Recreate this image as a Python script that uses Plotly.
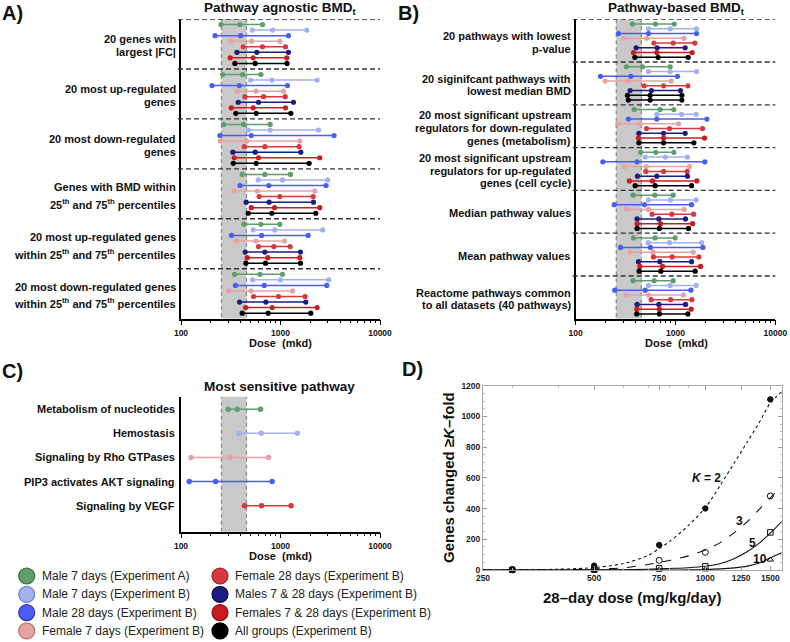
import math
import plotly.graph_objects as go

W, H = 790, 642
FONT = "Liberation Sans, Arial, sans-serif"

# ---------------- data ----------------
SERIES_NAMES = [
    "Male 7 days (Experiment A)", "Male 7 days (Experiment B)",
    "Male 28 days (Experiment B)", "Female 7 days (Experiment B)",
    "Female 28 days (Experiment B)", "Males 7 & 28 days (Experiment B)",
    "Females 7 & 28 days (Experiment B)", "All groups (Experiment B)",
]
SERIES_COLORS = ["#5e9e6e", "#a3b1ef", "#4b5ef2", "#e9a2a2",
                 "#d8383f", "#1b1d80", "#cc1a22", "#000000"]
LEGEND_EDGE = ["#3c6a48", "#7482c0", "#2c3aa8", "#b47676",
               "#9c2026", "#0b0c4c", "#8a0f14", "#000000"]

BMD_BAND = [255, 455]

A_LABELS = [
    ["20 genes with", "largest |FC|"],
    ["20 most up-regulated", "genes"],
    ["20 most down-regulated", "genes"],
    ["Genes with BMD within", "25<sup>th</sup> and 75<sup>th</sup> percentiles"],
    ["20 most up-regulated genes", "within 25<sup>th</sup> and 75<sup>th</sup> percentiles"],
    ["20 most down-regulated genes", "within 25<sup>th</sup> and 75<sup>th</sup> percentiles"],
]
A_LOW = [
    [252, 520, 220, 317, 422, 365, 312, 348],
    [262, 500, 205, 370, 439, 376, 320, 356],
    [268, 474, 246, 248, 432, 332, 343, 335],
    [412, 597, 391, 340, 611, 452, 508, 474],
    [429, 532, 322, 359, 601, 442, 463, 449],
    [345, 524, 353, 301, 536, 388, 446, 412],
]
A_MID = [
    [391, 832, 397, 511, 659, 578, 531, 556],
    [416, 819, 385, 566, 675, 601, 532, 570],
    [425, 787, 508, 456, 696, 557, 601, 570],
    [696, 1047, 764, 583, 984, 769, 871, 819],
    [635, 877, 645, 566, 857, 696, 746, 707],
    [621, 1000, 686, 504, 955, 713, 824, 752],
]
A_HIGH = [
    [659, 1837, 1202, 984, 1122, 1202, 1156, 1165],
    [635, 2334, 1175, 1072, 1114, 1350, 1122, 1270],
    [787, 2405, 3453, 1563, 1538, 1600, 2480, 1940],
    [1260, 2985, 2871, 2208, 2128, 2143, 2480, 2263],
    [984, 2660, 1895, 1097, 1250, 1588, 1563, 1588],
    [1047, 3055, 2917, 1318, 1767, 1795, 2334, 2014],
]

B_LABELS = [
    ["20 pathways with lowest", "p-value"],
    ["20 siginifcant pathways with", "lowest median BMD"],
    ["20 most significant upstream", "regulators for down-regulated", "genes (metabolism)"],
    ["20 most significant upstream", "regulators for up-regulated", "genes (cell cycle)"],
    ["Median pathway values"],
    ["Mean pathway values"],
    ["Reactome pathways common", "to all datasets (40 pathways)"],
]
B_LOW = [
    [370, 536, 268, 305, 607, 403, 379, 391],
    [322, 536, 177, 197, 485, 351, 330, 337],
    [385, 650, 337, 264, 512, 429, 425, 429],
    [449, 496, 187, 308, 504, 416, 345, 394],
    [376, 536, 243, 322, 583, 412, 412, 412],
    [379, 532, 281, 351, 601, 425, 439, 432],
    [376, 536, 246, 320, 570, 412, 409, 409],
]
B_MID = [
    [630, 884, 536, 515, 948, 655, 650, 670],
    [467, 884, 356, 337, 759, 574, 557, 557],
    [702, 1148, 650, 442, 871, 759, 759, 759],
    [635, 794, 412, 508, 759, 650, 588, 625],
    [621, 891, 489, 536, 919, 681, 707, 690],
    [625, 871, 561, 593, 926, 696, 741, 713],
    [611, 884, 496, 536, 891, 681, 690, 690],
]
B_HIGH = [
    [970, 1625, 1625, 1213, 1563, 1250, 1469, 1340],
    [884, 1625, 1047, 905, 1330, 1122, 1158, 1158],
    [962, 1611, 2061, 1072, 1866, 1250, 1954, 1528],
    [962, 1318, 1968, 1380, 1309, 1318, 1637, 1449],
    [948, 1611, 1449, 1222, 1517, 1260, 1483, 1350],
    [993, 1824, 1880, 1504, 1714, 1449, 1782, 1574],
    [948, 1611, 1426, 1202, 1459, 1260, 1436, 1330],
]
B_ROW_COLOR_OVERRIDE = {(1, 6): "#000000"}

C_LABELS = ["Metabolism of nucleotides", "Hemostasis", "Signaling by Rho GTPases",
            "PIP3 activates AKT signaling", "Signaling by VEGF"]
C_SERIES = [0, 1, 3, 2, 4]
C_LOW = [298, 382, 126, 121, 435]
C_MID = [367, 640, 310, 223, 645]
C_HIGH = [630, 1479, 758, 824, 1276]

D_DOSES = [300, 500, 750, 1000, 1500]
D_K2 = [3, 28, 163, 401, 1111]
D_K3 = [2, 6, 63, 115, 482]
D_K5 = [1, 2, 11, 24, 245]
D_K10 = [0, 0, 2, 3, 67]
CURVE_DOSES = [250, 300, 400, 500, 600, 700, 750, 800, 900, 1000, 1100, 1200, 1300, 1400, 1500, 1610]
CURVE_K2 = [0, 1, 5, 16, 42, 95, 140, 185, 290, 405, 555, 700, 835, 960, 1088, 1160]
CURVE_K3 = [0, 0, 2, 6, 14, 36, 50, 62, 92, 130, 180, 245, 315, 395, 470, 540]
CURVE_K5 = [0, 0, 0, 1, 2, 5, 7, 10, 15, 24, 42, 75, 120, 175, 240, 315]
CURVE_K10 = [0, 0, 0, 0, 0, 0, 0, 0, 1, 3, 7, 14, 25, 45, 80, 113]
D_XTICKS = [250, 500, 750, 1000, 1250, 1500]
D_YTICKS = [0, 200, 400, 600, 800, 1000, 1200]
DOSE_TICKS = [100, 1000, 10000]

# ---------------- figure ----------------
fig = go.Figure()


def px(x):
    return x / W


def py(y):
    return 1 - y / H


def annot(text, x, y, size, xanchor="center", yanchor="middle", xref="paper", yref="paper",
          textangle=0, color="#111", bold=True):
    fig.add_annotation(text=("<b>%s</b>" % text) if bold else text, x=x, y=y, xref=xref, yref=yref,
                       xanchor=xanchor, yanchor=yanchor, showarrow=False, textangle=textangle,
                       font=dict(family=FONT, size=size, color=color))


def add_band(xa, ya, y0, y1):
    fig.add_trace(go.Scatter(x=[BMD_BAND[0], BMD_BAND[1], BMD_BAND[1], BMD_BAND[0], BMD_BAND[0]],
                             y=[y0, y0, y1, y1, y0], fill="toself", fillcolor="#c9c9c9",
                             line=dict(width=0), mode="lines", xaxis=xa, yaxis=ya,
                             showlegend=False, hoverinfo="skip"))
    for b in BMD_BAND:
        fig.add_trace(go.Scatter(x=[b, b], y=[y0, y1], mode="lines",
                                 line=dict(color="#8c8c8c", width=1.3, dash="4px,3px"),
                                 xaxis=xa, yaxis=ya, showlegend=False, hoverinfo="skip"))


def add_dumbbells(xa, ya, lows, mids, highs, overrides=None):
    overrides = overrides or {}
    for g in range(len(lows)):
        for s in range(8):
            y = 9 * g + 1 + s
            col = overrides.get((g, s), SERIES_COLORS[s])
            fig.add_trace(go.Scatter(x=[lows[g][s], mids[g][s], highs[g][s]], y=[y, y, y],
                                     mode="lines+markers", line=dict(color=col, width=1.5),
                                     marker=dict(color=col, size=5.2), xaxis=xa, yaxis=ya,
                                     showlegend=False, hoverinfo="skip", cliponaxis=False))


def add_separators(yref, n_groups, xref):
    for g in range(n_groups):
        fig.add_shape(type="line", xref=xref + " domain", yref=yref, x0=-0.015, x1=1,
                      y0=9 * g, y1=9 * g, line=dict(color="#333", width=1.4, dash="5px,3px"))


# Panel A
A_ROWS = 9 * len(A_LOW)
add_band("x", "y", 0, A_ROWS)
add_separators("y", len(A_LOW), "x")
add_dumbbells("x", "y", A_LOW, A_MID, A_HIGH)

# Panel B
B_ROWS = 9 * len(B_LOW)
add_band("x2", "y2", 0, B_ROWS)
add_separators("y2", len(B_LOW), "x2")
add_dumbbells("x2", "y2", B_LOW, B_MID, B_HIGH, B_ROW_COLOR_OVERRIDE)

# Panel C
add_band("x3", "y3", -0.6, 5.2)
for i in range(len(C_LABELS)):
    col = SERIES_COLORS[C_SERIES[i]]
    fig.add_trace(go.Scatter(x=[C_LOW[i], C_MID[i], C_HIGH[i]], y=[i, i, i],
                             mode="lines+markers", line=dict(color=col, width=1.5),
                             marker=dict(color=col, size=5.5), xaxis="x3", yaxis="y3",
                             showlegend=False, hoverinfo="skip", cliponaxis=False))

# Panel D
for curve, dash in [(CURVE_K2, "dot"), (CURVE_K3, "dash"), (CURVE_K5, "solid"), (CURVE_K10, "solid")]:
    fig.add_trace(go.Scatter(x=CURVE_DOSES, y=curve, mode="lines", line=dict(color="#111", width=1.1,
                             dash=dash, shape="spline", smoothing=0.8), xaxis="x4", yaxis="y4",
                             showlegend=False, hoverinfo="skip"))
for vals, sym, size in [(D_K10, "triangle-up-open", 5.5), (D_K5, "square-open", 5.5),
                        (D_K3, "circle-open", 6), (D_K2, "circle", 5.5)]:
    fig.add_trace(go.Scatter(x=D_DOSES, y=vals, mode="markers",
                             marker=dict(symbol=sym, size=size, color="#111", line=dict(width=1, color="#111")),
                             xaxis="x4", yaxis="y4", showlegend=False, hoverinfo="skip",
                             cliponaxis=False))

# Legend (drawn on a pixel-scaled overlay axis)
for i, name in enumerate(SERIES_NAMES):
    col, row = i // 4, i % 4
    cx = 26.7 + 193.3 * col
    cy = 576 + 18.3 * row
    fig.add_trace(go.Scatter(x=[cx], y=[cy], mode="markers",
                             marker=dict(size=16, color=SERIES_COLORS[i],
                                         line=dict(color=LEGEND_EDGE[i], width=1.2)),
                             xaxis="x5", yaxis="y5", showlegend=False, hoverinfo="skip"))
    fig.add_annotation(text=name, x=cx + 13.3, y=cy, xref="x5", yref="y5", xanchor="left",
                       yanchor="middle", showarrow=False,
                       font=dict(family=FONT, size=12, color="#222"))

# ---------------- axes ----------------
dose_x = dict(type="log", range=[2, 4], showline=True, linecolor="#000", linewidth=1.5,
              ticks="outside", ticklen=5, tickwidth=1, tickcolor="#000",
              tickmode="array", tickvals=DOSE_TICKS, ticktext=[str(v) for v in DOSE_TICKS],
              tickfont=dict(family=FONT, size=8.5, color="#111", weight="bold"),
              showgrid=False, zeroline=False, fixedrange=True,
              minor=dict(ticks="outside", ticklen=3, tickwidth=1, tickcolor="#000", dtick="D1",
                         showgrid=False))
cat_y = dict(showline=True, linecolor="#000", linewidth=1.5, showticklabels=False, ticks="",
             showgrid=False, zeroline=False, fixedrange=True)

fig.update_layout(
    autosize=True, margin=dict(l=0, r=0, t=0, b=0, autoexpand=False),
    paper_bgcolor="white", plot_bgcolor="rgba(0,0,0,0)", showlegend=False,
    font=dict(family=FONT),
    xaxis=dict(dose_x, domain=[px(181), px(380)], anchor="y"),
    yaxis=dict(cat_y, domain=[py(318.7), py(19)], range=[A_ROWS, 0], anchor="x"),
    xaxis2=dict(dose_x, domain=[px(575.7), px(775.3)], anchor="y2"),
    yaxis2=dict(cat_y, domain=[py(318.7), py(19.3)], range=[B_ROWS, 0], anchor="x2"),
    xaxis3=dict(dose_x, domain=[px(181), px(380)], anchor="y3"),
    yaxis3=dict(cat_y, domain=[py(531.7), py(396.7)], range=[5.08, -0.52], anchor="x3"),
    xaxis4=dict(type="log", range=[math.log10(250), math.log10(1610)], domain=[px(483), px(781.7)],
                anchor="y4", showline=True, linecolor="#a8a8a8", linewidth=1, mirror="ticks",
                ticks="inside", ticklen=4, tickcolor="#999", tickmode="array", tickvals=D_XTICKS,
                ticktext=[str(v) for v in D_XTICKS],
                tickfont=dict(family=FONT, size=8.5, color="#222", weight="bold"),
                showgrid=False, zeroline=False, fixedrange=True,
                minor=dict(ticks="inside", ticklen=2, tickcolor="#bbb", dtick="D1", showgrid=False)),
    yaxis4=dict(range=[0, 1200], domain=[py(570), py(385.7)], anchor="x4", side="left",
                showline=True, linecolor="#a8a8a8", linewidth=1, mirror="ticks", ticks="inside",
                ticklen=4, tickcolor="#999", tickmode="array", tickvals=D_YTICKS,
                ticktext=[str(v) for v in D_YTICKS], showticklabels=True,
                ticklabeloverflow="allow",
                tickfont=dict(family=FONT, size=8.5, color="#222", weight="bold"),
                showgrid=False, zeroline=False, fixedrange=True,
                minor=dict(ticks="inside", ticklen=2, tickcolor="#bbb", dtick=50, showgrid=False)),
    xaxis5=dict(domain=[0, 1], range=[0, W], visible=False, anchor="y5", fixedrange=True),
    yaxis5=dict(domain=[0, 1], range=[H, 0], visible=False, anchor="x5", fixedrange=True),
)

# ---------------- text ----------------
annot("A)", px(12), py(13), 20)
annot("B)", px(408), py(13), 20)
annot("C)", px(12), py(371), 20)
annot("D)", px(412), py(369), 20)

annot("Pathway agnostic BMD<sub>t</sub>", px(280.5), py(8), 13.5)
annot("Pathway-based BMD<sub>t</sub>", px(676), py(8), 13.5)
annot("Most sensitive pathway", px(279), py(386), 13.5)
annot("Dose  (mkd)", px(280.5), py(343), 11)
annot("Dose  (mkd)", px(676), py(343), 11)
annot("Dose  (mkd)", px(280.5), py(555.7), 11)


def group_labels(labels, yref, center_off, row_px, right_px):
    for g, lines in enumerate(labels):
        n = len(lines)
        has_sup = any("<sup>" in l for l in lines)
        spacing = (16.5 if has_sup else 12.8) / row_px
        center = 9 * g + center_off
        for k, line in enumerate(lines):
            yv = center + (k - (n - 1) / 2) * spacing
            fig.add_annotation(text="<b>%s</b>" % line, x=px(right_px), y=yv, xref="paper", yref=yref,
                               xanchor="right", yanchor="middle", showarrow=False,
                               font=dict(family=FONT, size=11, color="#111"))


group_labels(A_LABELS, "y", 26.5 / 5.55, 5.55, 177.7)
group_labels(B_LABELS, "y2", 23.0 / 4.75, 4.75, 572.7)
for i, lab in enumerate(C_LABELS):
    fig.add_annotation(text="<b>%s</b>" % lab, x=px(176.7), y=i, xref="paper", yref="y3",
                       xanchor="right", yanchor="middle", showarrow=False,
                       font=dict(family=FONT, size=11, color="#111"))

# Panel D titles and curve labels
annot("28\u2013day dose (mg/kg/day)", px(632), py(597), 15)
annot("Genes changed \u2265<i>K</i>\u2013fold", px(448), py(478), 15, textangle=-90)
for txt, dose, val in [("<i>K</i> = 2", 1010, 597), ("3", 1240, 321), ("5", 1340, 174), ("10", 1404, 72)]:
    fig.add_annotation(text="<b>%s</b>" % txt, x=math.log10(dose), y=val, xref="x4", yref="y4",
                       showarrow=False, xanchor="center", yanchor="middle",
                       font=dict(family=FONT, size=12, color="#111"))

fig.write_html("out.html", config={"displayModeBar": False},
               default_width="790px;position:absolute;left:0px;top:0px",
               default_height="642px",
               post_script="document.body.style.margin='0';document.body.style.overflow='hidden';")
